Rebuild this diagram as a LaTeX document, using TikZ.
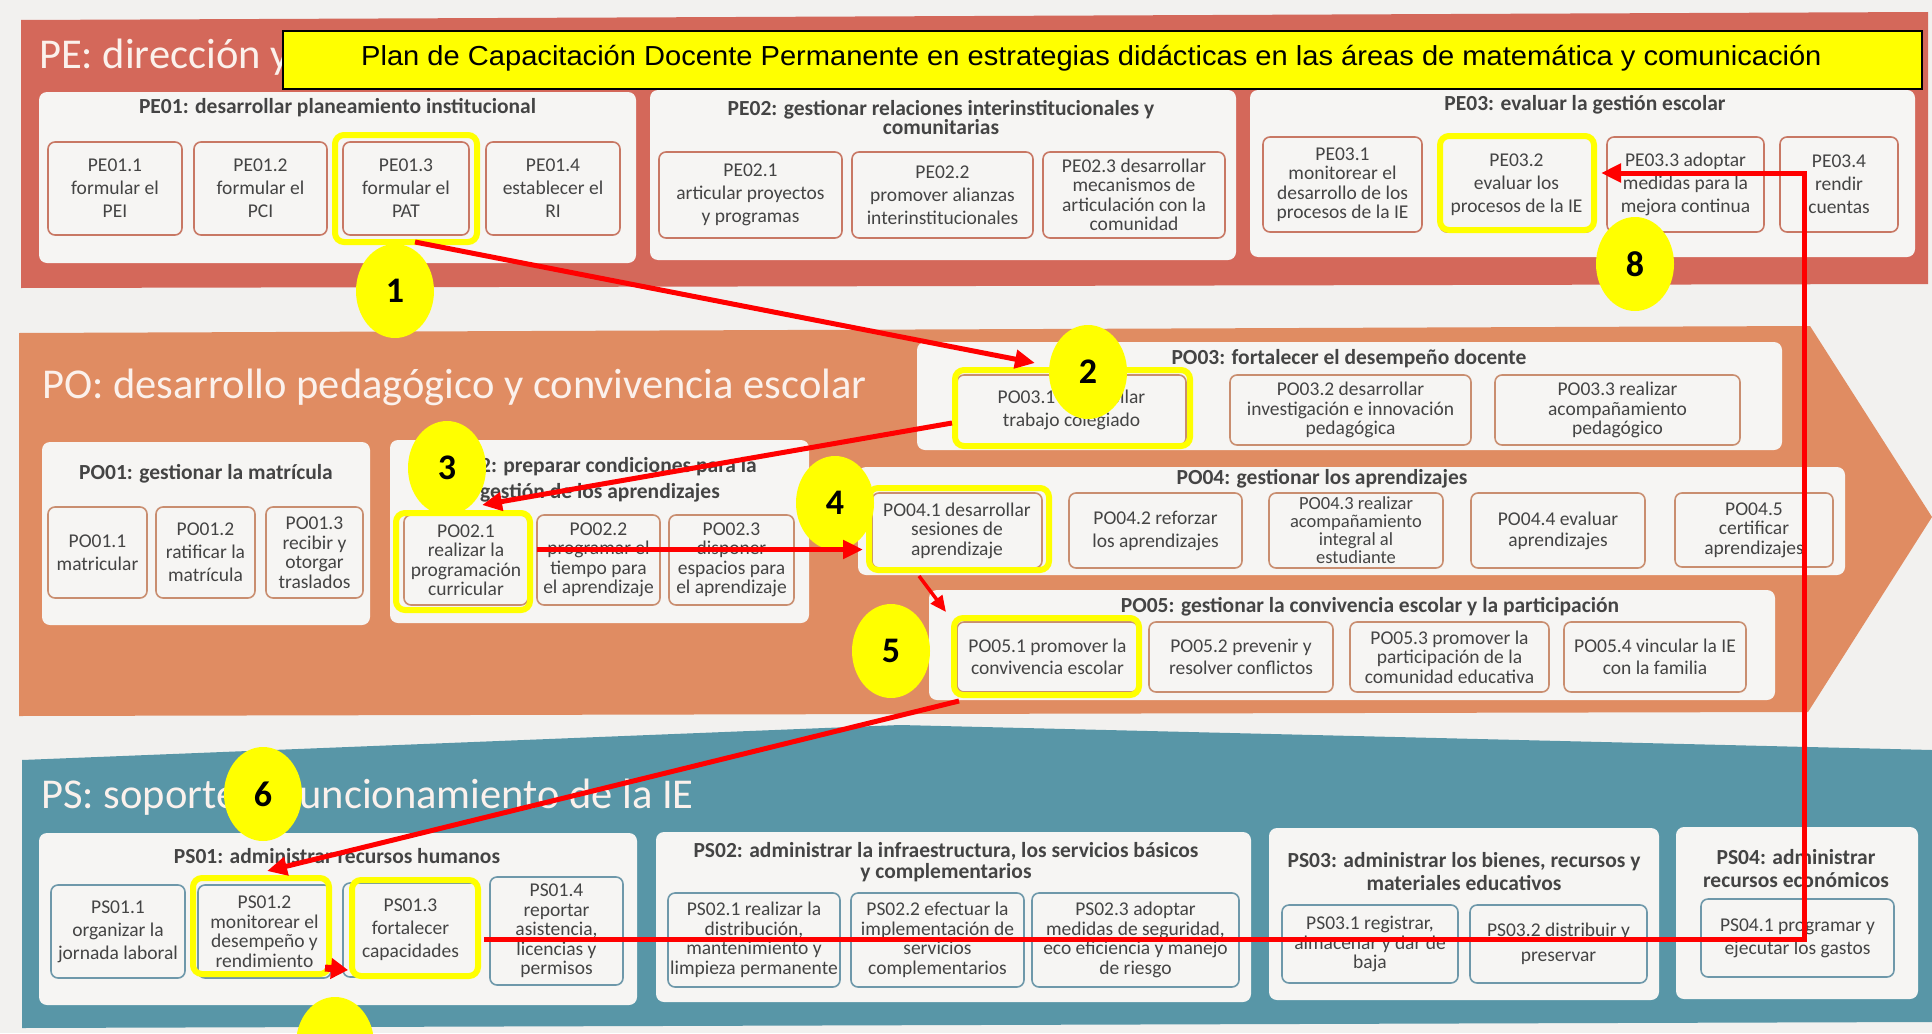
\documentclass[tikz,border=0pt]{standalone}
\usepackage{fontspec}
\setmainfont{Carlito}
\newfontfamily\arialf{Liberation Sans}
\usetikzlibrary{shapes.geometric,arrows.meta,calc}
\definecolor{bgc}{HTML}{F2F1EF}
\definecolor{pered}{HTML}{D4685A}
\definecolor{poor}{HTML}{E08C62}
\definecolor{pstl}{HTML}{5896A7}
\definecolor{grpfill}{HTML}{F6F5F3}
\definecolor{bdred}{HTML}{C87864}
\definecolor{bdor}{HTML}{C98E70}
\definecolor{bdbl}{HTML}{6E98AA}
\definecolor{txt}{HTML}{444444}
\definecolor{bandtxt}{HTML}{FBF1EC}
\definecolor{hiyel}{HTML}{FFFF00}
\definecolor{arred}{HTML}{FF0000}
\tikzset{
  grp/.style={fill=grpfill, rounded corners=8pt},
  subbox/.style={draw=bdred, line width=1.6pt, fill=grpfill, rounded corners=7pt, align=center, text=txt, font=\fontsize{19.5}{23}\selectfont, inner sep=1pt},
  tight/.style={font=\fontsize{19.5}{19.5}\selectfont},
  peb/.style={subbox},
  pob/.style={subbox, draw=bdor},
  psb/.style={subbox, draw=bdbl},
  gtitle/.style={font=\bfseries\fontsize{21.5}{21}\selectfont, text=txt, align=center, inner sep=0pt},
  bandt/.style={font=\fontsize{42.5}{42}\selectfont, text=bandtxt, anchor=base west, inner sep=0pt},
  hl/.style={draw=hiyel, line width=6pt, rounded corners=9pt, inner sep=0pt},
  num/.style={ellipse, fill=hiyel, minimum width=78pt, minimum height=94pt, inner sep=0pt, font=\bfseries\fontsize{36}{36}\selectfont},
  arr/.style={draw=arred, line width=5pt, -{Triangle[length=20pt,width=18pt]}},
}
\begin{document}
\begin{tikzpicture}[x=1pt,y=-1pt]
\useasboundingbox (0,0) rectangle (1932,1033);
\clip (0,0) rectangle (1932,1033);
\fill[bgc] (0,0) rectangle (1932,1033);
% bands
\fill[pered] (21,20) -- (1928,12) -- (1928,284) -- (21,288) -- cycle;
\fill[poor] (19,333) -- (1810,326) -- (1932,517) -- (1808,712) -- (19,716) -- cycle;
\fill[pstl] (22,760) -- (900,725) -- (1932,750) -- (1932,1022) -- (22,1028) -- cycle;
\node[bandt] (tpe) at (39,68) {PE: dirección y};
\node[bandt] (tpo) at (42,398) {PO: desarrollo pedagógico y convivencia escolar};
\node[bandt] (tps) at (41,808) {PS: soporte al funcionamiento de la IE};
% group boxes
\fill[grp] (39,92) rectangle (636,263);
\fill[grp] (650,90) rectangle (1236,260);
\fill[grp] (1250,90) rectangle (1915,257);
\fill[grp] (42,442) rectangle (370,625);
\fill[grp] (390,440) rectangle (809,623);
\fill[grp] (917,342) rectangle (1782,450);
\fill[grp] (858,467) rectangle (1845,575);
\fill[grp] (929,590) rectangle (1775,700);
\fill[grp] (39,833) rectangle (637,1005);
\fill[grp] (656,832) rectangle (1251,1002);
\fill[grp] (1269,828) rectangle (1659,1000);
\fill[grp] (1676,827) rectangle (1918,999);
% title box
\node[draw=black, line width=2.5pt, fill=hiyel, minimum width=1639pt, minimum height=58pt, inner sep=0pt] (tbox) at (1102.5,60) {};
\node[anchor=base west, inner sep=0pt, font=\arialf\fontsize{27.5}{27.5}\selectfont] (ttl) at (361,66) {\scalebox{1.058}[1]{Plan de Capacitación Docente Permanente en estrategias didácticas en las áreas de matemática y comunicación}};
% group titles
\node[gtitle] (gpe1) at (337.5,108) {PE01: desarrollar planeamiento institucional};
\node[gtitle, font=\bfseries\fontsize{21.5}{19.5}\selectfont] (gpe2) at (941,117.5) {PE02: gestionar relaciones interinstitucionales y\\comunitarias};
\node[gtitle] (gpe3) at (1585,105) {PE03: evaluar la gestión escolar};
\node[gtitle] (gpo1) at (206,474) {PO01: gestionar la matrícula};
\node[gtitle, font=\bfseries\fontsize{21.5}{26}\selectfont] (gpo2) at (600,480) {PO02: preparar condiciones para la\\gestión de los aprendizajes};
\node[gtitle] (gpo3) at (1349,359) {PO03: fortalecer el desempeño docente};
\node[gtitle] (gpo4) at (1322,479) {PO04: gestionar los aprendizajes};
\node[gtitle] (gpo5) at (1370,607) {PO05: gestionar la convivencia escolar y la participación};
\node[gtitle] (gps1) at (337,856) {PS01: administrar recursos humanos};
\node[gtitle, font=\bfseries\fontsize{21.5}{21}\selectfont] (gps2) at (946,862.5) {PS02: administrar la infraestructura, los servicios básicos\\y complementarios};
\node[gtitle, font=\bfseries\fontsize{21.5}{23}\selectfont] (gps3) at (1464,871.5) {PS03: administrar los bienes, recursos y\\materiales educativos};
\node[gtitle, font=\bfseries\fontsize{21.5}{23}\selectfont] (gps4) at (1796,868.5) {PS04: administrar\\recursos económicos};
% PE sub boxes
\node[peb, minimum width=134pt, minimum height=93pt] (pe11) at (115,188.5) {PE01.1\\formular el\\PEI};
\node[peb, minimum width=133pt, minimum height=93pt] (pe12) at (260.5,188.5) {PE01.2\\formular el\\PCI};
\node[peb, minimum width=126pt, minimum height=93pt] (pe13) at (406,188.5) {PE01.3\\formular el\\PAT};
\node[peb, minimum width=134pt, minimum height=93pt] (pe14) at (553,188.5) {PE01.4\\establecer el\\RI};
\node[peb, minimum width=183pt, minimum height=86pt] (pe21) at (750.5,195) {PE02.1\\articular proyectos\\y programas};
\node[peb, minimum width=181pt, minimum height=86pt] (pe22) at (942.5,195) {PE02.2\\promover alianzas\\interinstitucionales};
\node[peb, tight, minimum width=182pt, minimum height=86pt] (pe23) at (1134,195) {PE02.3 desarrollar\\mecanismos de\\articulación con la\\comunidad};
\node[peb, tight, minimum width=159pt, minimum height=95pt] (pe31) at (1342.5,184.5) {PE03.1\\monitorear el\\desarrollo de los\\procesos de la IE};
\node[peb, minimum width=153pt, minimum height=95pt] (pe32) at (1516.5,184.5) {PE03.2\\evaluar los\\procesos de la IE};
\node[peb, minimum width=157pt, minimum height=95pt] (pe33) at (1685.5,184.5) {PE03.3 adoptar\\medidas para la\\mejora continua};
\node[peb, minimum width=118pt, minimum height=95pt] (pe34) at (1839,184.5) {PE03.4\\rendir\\cuentas};
% PO sub boxes
\node[pob, minimum width=99pt, minimum height=91pt] (po11) at (97.5,552.5) {PO01.1\\matricular};
\node[pob, minimum width=99pt, minimum height=91pt] (po12) at (205.5,552.5) {PO01.2\\ratificar la\\matrícula};
\node[pob, tight, minimum width=97pt, minimum height=91pt] (po13) at (314.5,552.5) {PO01.3\\recibir y\\otorgar\\traslados};
\node[pob, tight, minimum width=124pt, minimum height=90pt] (po21) at (466,560) {PO02.1\\realizar la\\programación\\curricular};
\node[pob, tight, minimum width=123pt, minimum height=90pt] (po22) at (598.5,560) {PO02.2\\programar el\\tiempo para\\el aprendizaje};
\node[pob, tight, minimum width=125pt, minimum height=90pt] (po23) at (731.5,560) {PO02.3\\disponer\\espacios para\\el aprendizaje};
\node[pob, minimum width=229pt, minimum height=70pt] (po31) at (1071.5,410) {PO03.1 desarrollar\\trabajo colegiado};
\node[pob, tight, minimum width=241pt, minimum height=70pt] (po32) at (1350.5,410) {PO03.2 desarrollar\\investigación e innovación\\pedagógica};
\node[pob, tight, minimum width=245pt, minimum height=70pt] (po33) at (1617.5,410) {PO03.3 realizar\\acompañamiento\\pedagógico};
\node[pob, tight, minimum width=170pt, minimum height=75pt] (po41) at (957,530.5) {PO04.1 desarrollar\\sesiones de\\aprendizaje};
\node[pob, minimum width=173pt, minimum height=75pt] (po42) at (1155.5,530.5) {PO04.2 reforzar\\los aprendizajes};
\node[pob, font=\fontsize{18.5}{18}\selectfont, minimum width=174pt, minimum height=75pt] (po43) at (1356,530.5) {PO04.3 realizar\\acompañamiento\\integral al\\estudiante};
\node[pob, font=\fontsize{19.5}{21}\selectfont, minimum width=174pt, minimum height=75pt] (po44) at (1558,530.5) {PO04.4 evaluar\\aprendizajes};
\node[pob, tight, minimum width=158pt, minimum height=74pt] (po45) at (1754,530) {PO04.5\\certificar\\aprendizajes};
\node[pob, font=\fontsize{19.5}{22}\selectfont, minimum width=181pt, minimum height=70pt] (po51) at (1047.5,657) {PO05.1 promover la\\convivencia escolar};
\node[pob, font=\fontsize{19.5}{22}\selectfont, minimum width=184pt, minimum height=70pt] (po52) at (1241,657) {PO05.2 prevenir y\\resolver conflictos};
\node[pob, tight, minimum width=199pt, minimum height=70pt] (po53) at (1449.5,657) {PO05.3 promover la\\participación de la\\comunidad educativa};
\node[pob, font=\fontsize{19.5}{22}\selectfont, minimum width=182pt, minimum height=70pt] (po54) at (1655,657) {PO05.4 vincular la IE\\con la familia};
% PS sub boxes
\node[psb, minimum width=134pt, minimum height=93pt] (ps11) at (118,931.5) {PS01.1\\organizar la\\jornada laboral};
\node[psb, tight, minimum width=133pt, minimum height=93pt] (ps12) at (264.5,931.5) {PS01.2\\monitorear el\\desempeño y\\rendimiento};
\node[psb, minimum width=135pt, minimum height=94pt] (ps13) at (410.5,930) {PS01.3\\fortalecer\\capacidades};
\node[psb, tight, minimum width=133pt, minimum height=108pt] (ps14) at (556.5,931) {PS01.4\\reportar\\asistencia,\\licencias y\\permisos};
\node[psb, tight, minimum width=172pt, minimum height=94pt] (ps21) at (754,940) {PS02.1 realizar la\\distribución,\\mantenimiento y\\limpieza permanente};
\node[psb, tight, minimum width=173pt, minimum height=94pt] (ps22) at (937.5,940) {PS02.2 efectuar la\\implementación de\\servicios\\complementarios};
\node[psb, tight, minimum width=207pt, minimum height=94pt] (ps23) at (1135.5,940) {PS02.3 adoptar\\medidas de seguridad,\\eco eficiencia y manejo\\de riesgo};
\node[psb, tight, minimum width=176pt, minimum height=78pt] (ps31) at (1370,944) {PS03.1 registrar,\\almacenar y dar de\\baja};
\node[psb, font=\fontsize{19.5}{25}\selectfont, minimum width=177pt, minimum height=78pt] (ps32) at (1558.5,944) {PS03.2 distribuir y\\preservar};
\node[psb, minimum width=193pt, minimum height=78pt] (ps41) at (1797.5,938) {PS04.1 programar y\\ejecutar los gastos};
% highlights
\node[hl, minimum width=142pt, minimum height=107pt] (h13) at (406,188.5) {};
\node[hl, minimum width=154pt, minimum height=94pt] (h32) at (1517,183) {};
\node[hl, minimum width=235pt, minimum height=76pt] (h31) at (1072.5,408) {};
\node[hl, minimum width=134pt, minimum height=97pt] (h21) at (463,561.5) {};
\node[hl, minimum width=180pt, minimum height=82pt] (h41) at (959,529) {};
\node[hl, minimum width=185pt, minimum height=77pt] (h51) at (1046.5,656.5) {};
\node[hl, minimum width=136pt, minimum height=96pt] (hs12) at (261,926) {};
\node[hl, minimum width=126pt, minimum height=96pt] (hs13) at (415,928) {};
% numbered ellipses
\node[num] (n1) at (395,291) {1};
\node[num] (n2) at (1088,372) {2};
\node[num] (n3) at (447,468) {3};
\node[num] (n4) at (835,503) {4};
\node[num] (n5) at (891,651) {5};
\node[num] (n6) at (263,794) {6};
\node[num] (n7) at (335,1044) {};
\node[num] (n8) at (1635,264) {8};
% connectors
\coordinate (t1) at (1035,363);
\coordinate (k7) at (1804,0);
\draw[arr] ($(h13.south)+(9,-3)$) -- (t1);
\draw[arr] ($(h31.west)+(0,15)$) -- ($(h21.north)+(19,-5)$);
\coordinate (s3) at ($(h21.east)+(4,-12)$);
\draw[arr] (s3) -- ($(s3 -| h41.west)+(-3,0)$);
\draw[draw=arred, line width=3.5pt, -{Triangle[length=16pt,width=14pt]}] ($(h41.south)+(-40,3)$) -- ($(h51.north west)+(-5,-3)$);
\draw[arr] ($(h51.south west)+(8,3)$) -- ($(hs12.north)+(6,-4)$);
\draw[draw=arred, line width=7pt, -{Triangle[length=17pt,width=20pt]}] ($(hs12.south east)+(-7,-9)$) -- ($(hs13.south west)+(-1,-9)$);
\coordinate (s7) at ($(hs13.east)+(3,11)$);
\coordinate (e7) at ($(h32.east)+(4,-10)$);
\draw[arr] (s7) -- (s7 -| k7) -- (e7 -| k7) -- (e7);
\end{tikzpicture}
\end{document}
